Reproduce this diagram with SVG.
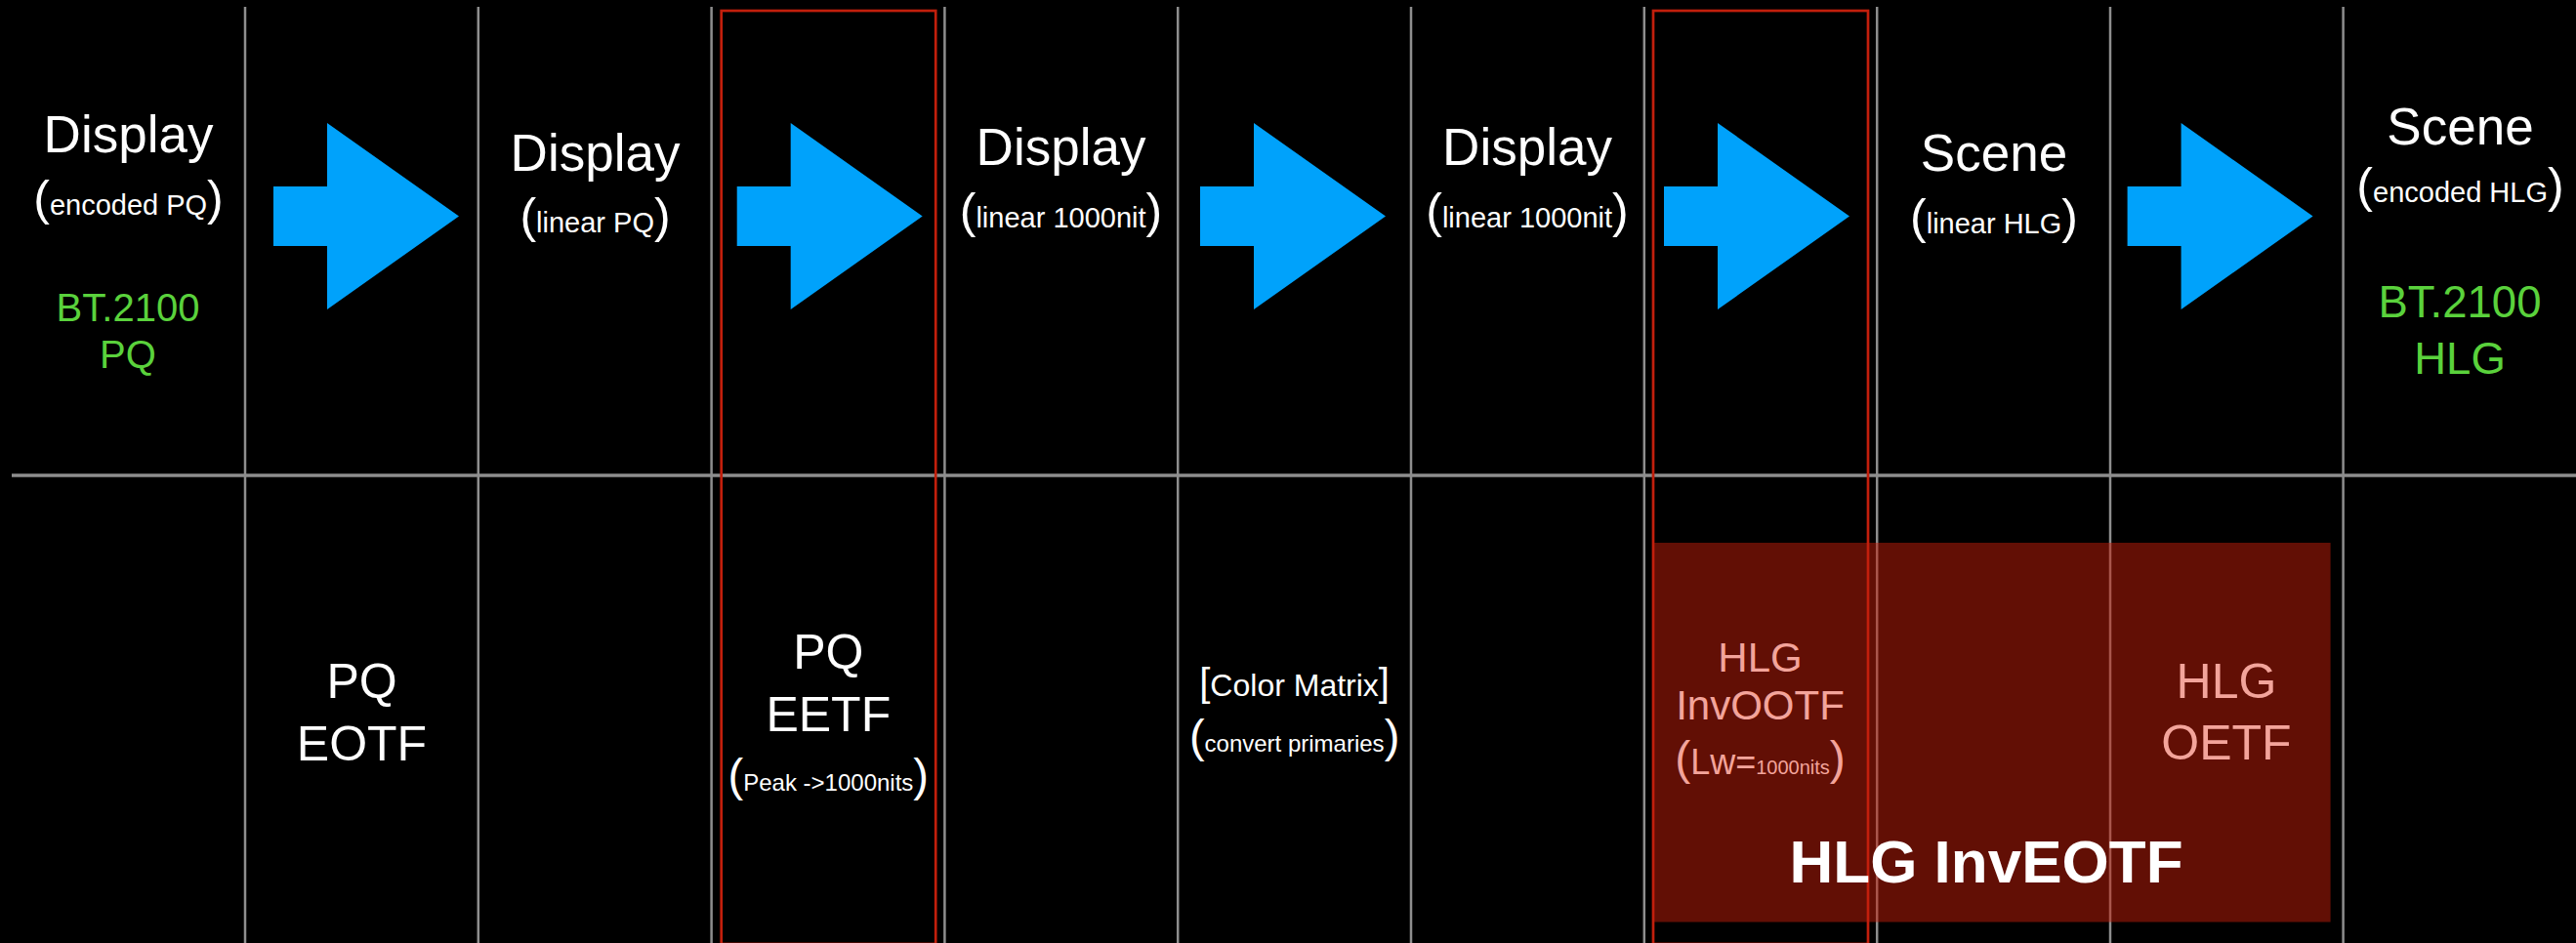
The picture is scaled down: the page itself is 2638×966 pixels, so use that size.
<svg xmlns="http://www.w3.org/2000/svg" width="2638" height="966" viewBox="0 0 2638 966">
<defs>
<style>
text{font-family:"Liberation Sans",Arial,Helvetica,sans-serif;text-anchor:middle;}
.w{fill:#ffffff;}
.g{fill:#5ad23c;}
.p{fill:#f3a49b;}
.big{font-size:53px;}
.fn{font-size:50px;}
.par{font-size:50px;}
.sub{font-size:29px;}
.grid{stroke:#8e8e8e;stroke-width:2.5;fill:none;}
.hgrid{stroke:#8e8e8e;stroke-width:3.5;fill:none;}
.frame{fill:none;stroke:#c21f0c;stroke-width:2.7;}
.arrow{fill:#00a2fb;}
</style>
<polygon id="arr" points="0,191 55,191 55,126 190,221.5 55,317 55,252 0,252"/>
</defs>
<rect x="0" y="0" width="2638" height="966" fill="#000000"/>
<g id="grid">
<line class="hgrid" x1="12" y1="487" x2="2638" y2="487"/>
<line class="grid" x1="251" y1="7" x2="251" y2="966"/>
<line class="grid" x1="489.8" y1="7" x2="489.8" y2="966"/>
<line class="grid" x1="728.6" y1="7" x2="728.6" y2="966"/>
<line class="grid" x1="967.4" y1="7" x2="967.4" y2="966"/>
<line class="grid" x1="1206.2" y1="7" x2="1206.2" y2="966"/>
<line class="grid" x1="1445" y1="7" x2="1445" y2="966"/>
<line class="grid" x1="1683.8" y1="7" x2="1683.8" y2="966"/>
<line class="grid" x1="1922.2" y1="7" x2="1922.2" y2="966"/>
<line class="grid" x1="2161" y1="7" x2="2161" y2="966"/>
<line class="grid" x1="2399.6" y1="7" x2="2399.6" y2="966"/>
</g>
<g id="hlg-inveotf-block">
<rect x="1692.6" y="556" width="694" height="388.5" fill="#c41e0a" fill-opacity="0.5"/>
</g>
<g id="frames">
<rect class="frame" x="738.7" y="11" width="219.5" height="956"/>
<rect class="frame" x="1693" y="11" width="220" height="956"/>
</g>
<g id="connectors">
<use href="#arr" class="arrow" x="280" y="0"/>
<use href="#arr" class="arrow" x="754.7" y="0"/>
<use href="#arr" class="arrow" x="1229" y="0"/>
<use href="#arr" class="arrow" x="1704" y="0"/>
<use href="#arr" class="arrow" x="2178.6" y="0"/>
</g>
<g id="node-display-encoded-pq">
<text class="w big" x="131.5" y="156">Display</text>
<text class="w" x="131.5" y="220"><tspan class="par">(</tspan><tspan class="sub">encoded PQ</tspan><tspan class="par">)</tspan></text>
<text class="g" x="131" y="329.3" font-size="40">BT.2100</text>
<text class="g" x="131" y="376.7" font-size="40">PQ</text>
</g>
<g id="node-display-linear-pq">
<text class="w big" x="609.5" y="175">Display</text>
<text class="w" x="609.5" y="238"><tspan class="par">(</tspan><tspan class="sub">linear PQ</tspan><tspan class="par">)</tspan></text>
</g>
<g id="node-display-linear-1000nit-a">
<text class="w big" x="1086.5" y="169.3">Display</text>
<text class="w" x="1086.5" y="233"><tspan class="par">(</tspan><tspan class="sub">linear 1000nit</tspan><tspan class="par">)</tspan></text>
</g>
<g id="node-display-linear-1000nit-b">
<text class="w big" x="1564" y="169.3">Display</text>
<text class="w" x="1564" y="233"><tspan class="par">(</tspan><tspan class="sub">linear 1000nit</tspan><tspan class="par">)</tspan></text>
</g>
<g id="node-scene-linear-hlg">
<text class="w big" x="2042" y="175">Scene</text>
<text class="w" x="2042" y="238.5"><tspan class="par">(</tspan><tspan class="sub">linear HLG</tspan><tspan class="par">)</tspan></text>
</g>
<g id="node-scene-encoded-hlg">
<text class="w big" x="2519.5" y="148.3">Scene</text>
<text class="w" x="2519.5" y="207"><tspan class="par">(</tspan><tspan class="sub">encoded HLG</tspan><tspan class="par">)</tspan></text>
<text class="g" x="2519" y="325" font-size="45.5">BT.2100</text>
<text class="g" x="2519" y="383.3" font-size="45.5">HLG</text>
</g>
<g id="node-pq-eotf">
<text class="w fn" x="370.5" y="715">PQ</text>
<text class="w fn" x="370.5" y="779.3">EOTF</text>
</g>
<g id="node-pq-eetf">
<text class="w fn" x="848.3" y="685">PQ</text>
<text class="w fn" x="848.3" y="749.3">EETF</text>
<text class="w" x="848.3" y="810"><tspan font-size="47">(</tspan><tspan font-size="24">Peak -&gt;1000nits</tspan><tspan font-size="47">)</tspan></text>
</g>
<g id="node-color-matrix">
<text class="w" x="1325.6" y="713.3"><tspan font-size="40">[</tspan><tspan font-size="32">Color Matrix</tspan><tspan font-size="40">]</tspan></text>
<text class="w" x="1325.6" y="770"><tspan font-size="47">(</tspan><tspan font-size="24">convert primaries</tspan><tspan font-size="47">)</tspan></text>
</g>
<g id="node-hlg-invootf">
<text class="p" x="1802.5" y="688.3" font-size="42">HLG</text>
<text class="p" x="1802.5" y="736.7" font-size="42">InvOOTF</text>
<text class="p" x="1802.5" y="793.3"><tspan font-size="48">(</tspan><tspan font-size="36">Lw=</tspan><tspan font-size="20">1000nits</tspan><tspan font-size="48">)</tspan></text>
</g>
<g id="node-hlg-oetf">
<text class="p fn" x="2280" y="715">HLG</text>
<text class="p fn" x="2280" y="778.3">OETF</text>
</g>
<g id="node-hlg-inveotf-label">
<text class="w" x="2034" y="904" font-size="62" font-weight="bold">HLG InvEOTF</text>
</g>
</svg>
